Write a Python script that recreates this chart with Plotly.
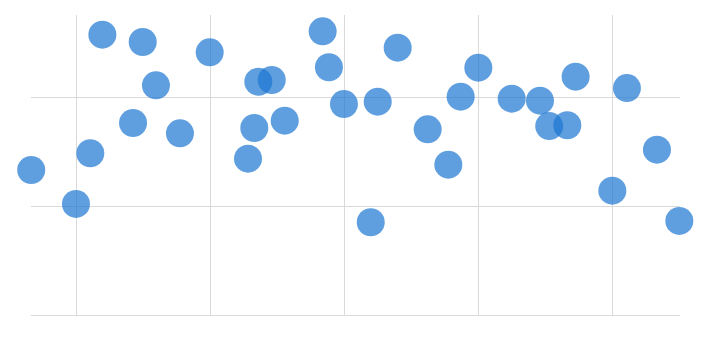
import plotly.graph_objects as go

x_values = [0.662, 0.996, 1.103, 1.193, 1.422, 1.494, 1.593, 1.772, 1.994, 2.280,
            2.327, 2.357, 2.457, 2.554, 2.837, 2.884, 2.996, 3.196, 3.248, 3.397,
            3.621, 3.775, 3.867, 3.999, 4.248, 4.459, 4.528, 4.663, 4.725, 4.999,
            5.108, 5.332, 5.499]
y_values = [1.332, 1.020, 1.486, 2.575, 1.764, 2.508, 2.110, 1.669, 2.413, 1.436,
            1.718, 2.143, 2.159, 1.785, 2.606, 2.276, 1.938, 0.852, 1.960, 2.456,
            1.706, 1.381, 2.006, 2.272, 1.987, 1.969, 1.736, 1.743, 2.189, 1.142,
            2.085, 1.519, 0.864]
x_ticks = [1, 2, 3, 4, 5]
y_ticks = [0, 1, 2]

fig = go.Figure(
    go.Scatter(
        x=x_values, y=y_values, mode="markers", cliponaxis=False,
        marker=dict(size=28, color="rgb(28,118,210)", opacity=0.7,
                    line=dict(width=0)),
        hoverinfo="x+y",
    )
)

grid = "#d9d9d9"
fig.update_layout(
    width=711, height=344,
    margin=dict(l=31, r=31, t=15, b=29, pad=0),
    paper_bgcolor="white", plot_bgcolor="white",
    showlegend=False,
    xaxis=dict(range=[0.6604, 5.504], tickvals=x_ticks, showticklabels=False,
               showgrid=True, gridcolor=grid, gridwidth=1, zeroline=False,
               showline=True, linecolor=grid, linewidth=1, ticks=""),
    yaxis=dict(range=[0, 2.756], tickvals=y_ticks, showticklabels=False,
               showgrid=True, gridcolor=grid, gridwidth=1, zeroline=False,
               showline=False, ticks=""),
)

fig.write_html("out.html")
